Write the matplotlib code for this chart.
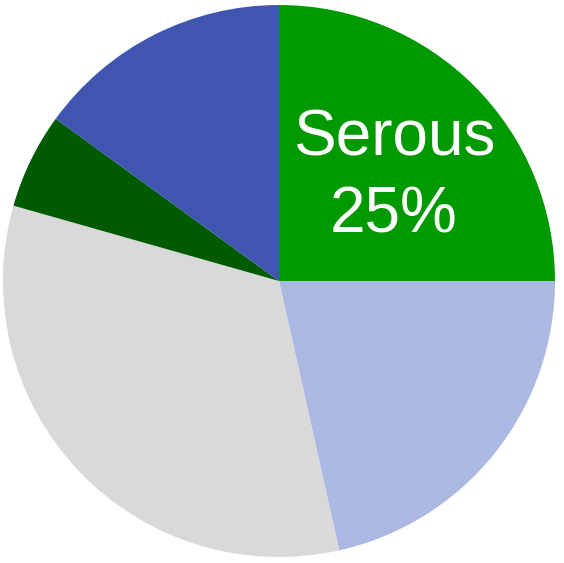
import matplotlib.pyplot as plt

# slice shares, clockwise from 12 o'clock
labels = ["Serous", "", "", "", ""]
shares = [25, 21.5, 32.9, 5.6, 15.0]
colors = ["#009900", "#aab8e2", "#d9d9d9", "#005a00", "#3f55b0"]

fig = plt.figure(figsize=(5.64, 5.63), dpi=100)
ax = fig.add_axes([0, 0, 1, 1])

r = 276.0
cx, cy = 279.0, 281.0

wedges, _ = ax.pie(shares, colors=colors, startangle=90, counterclock=False,
                   radius=1.0, frame=True)
ax.set_xlim(-cx / r, (564 - cx) / r)
ax.set_ylim(-(563 - cy) / r, cy / r)
ax.set_aspect("equal")
ax.axis("off")

ax.text(0.417, 0.376, f"{labels[0]}\n{shares[0]:.0f}%", color="white",
        fontsize=46, family="Liberation Sans", ha="center", va="center",
        linespacing=1.37)

fig.savefig("out.png", dpi=100)
